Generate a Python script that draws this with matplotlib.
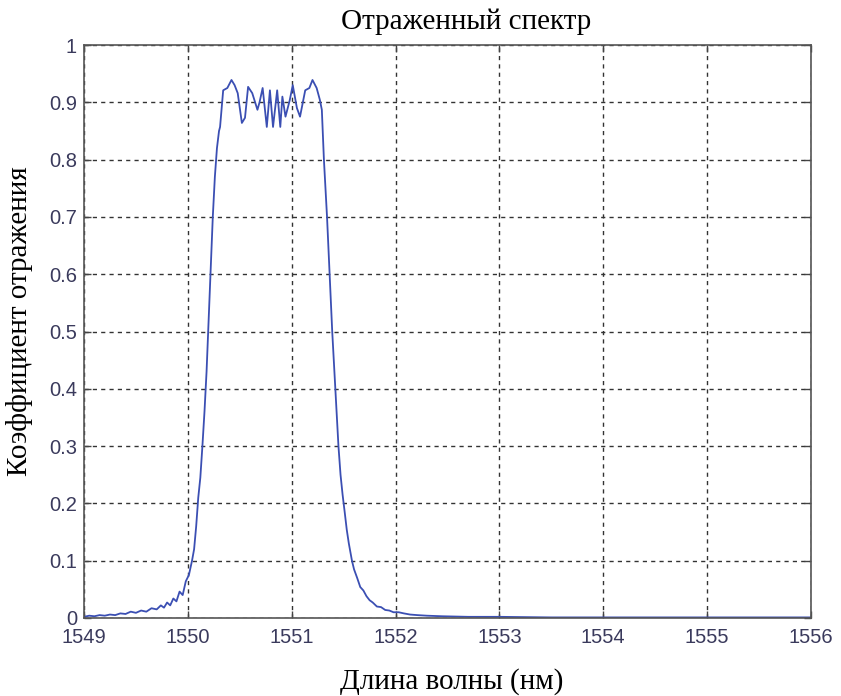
import matplotlib
matplotlib.use("Agg")
import matplotlib.pyplot as plt

# Отраженный спектр
wavelength = [
    1549.00, 1549.05, 1549.10, 1549.15, 1549.20, 1549.25, 1549.30, 1549.35,
    1549.40, 1549.45, 1549.50, 1549.55, 1549.60, 1549.65, 1549.70, 1549.74,
    1549.77, 1549.80, 1549.83, 1549.86, 1549.89, 1549.92, 1549.95, 1549.98,
    1550.01, 1550.04, 1550.06, 1550.08, 1550.10, 1550.12, 1550.14, 1550.16,
    1550.18, 1550.20, 1550.22, 1550.24, 1550.26, 1550.28, 1550.30, 1550.31,
    1550.34, 1550.38, 1550.42, 1550.45, 1550.48, 1550.52, 1550.55, 1550.58,
    1550.62, 1550.67, 1550.69, 1550.72, 1550.76, 1550.79, 1550.82, 1550.86,
    1550.89, 1550.91, 1550.94, 1550.98, 1551.01, 1551.05, 1551.08, 1551.13,
    1551.17, 1551.20, 1551.24, 1551.27, 1551.29, 1551.31, 1551.34, 1551.365,
    1551.39, 1551.42, 1551.45, 1551.47, 1551.49, 1551.51, 1551.53, 1551.55,
    1551.58, 1551.60, 1551.63, 1551.66, 1551.69, 1551.72, 1551.75, 1551.78,
    1551.82, 1551.86, 1551.90, 1551.94, 1551.98, 1552.03, 1552.08, 1552.14,
    1552.21, 1552.30, 1552.45, 1552.70, 1553.00, 1553.50, 1554.20, 1555.00,
    1556.00,
]
reflectance = [
    0.002, 0.004, 0.003, 0.005, 0.004, 0.006, 0.005, 0.008,
    0.007, 0.011, 0.009, 0.013, 0.011, 0.017, 0.015, 0.022,
    0.018, 0.027, 0.022, 0.034, 0.029, 0.046, 0.040, 0.064,
    0.075, 0.100, 0.120, 0.160, 0.210, 0.245, 0.300, 0.360,
    0.430, 0.520, 0.610, 0.700, 0.770, 0.820, 0.850, 0.857,
    0.921, 0.925, 0.939, 0.930, 0.916, 0.864, 0.873, 0.927,
    0.916, 0.887, 0.900, 0.925, 0.857, 0.921, 0.857, 0.921,
    0.857, 0.910, 0.875, 0.903, 0.930, 0.890, 0.875, 0.921,
    0.925, 0.939, 0.925, 0.905, 0.887, 0.800, 0.700, 0.600,
    0.500, 0.400, 0.300, 0.250, 0.215, 0.185, 0.154, 0.130,
    0.100, 0.085, 0.070, 0.054, 0.048, 0.038, 0.031, 0.027,
    0.020, 0.019, 0.014, 0.013, 0.010, 0.010, 0.008, 0.006,
    0.005, 0.004, 0.003, 0.002, 0.002, 0.001, 0.001, 0.001,
    0.001,
]

x_ticks = [1549, 1550, 1551, 1552, 1553, 1554, 1555, 1556]
y_ticks = [0, 0.1, 0.2, 0.3, 0.4, 0.5, 0.6, 0.7, 0.8, 0.9, 1]
y_labels = ["0", "0.1", "0.2", "0.3", "0.4", "0.5", "0.6", "0.7", "0.8", "0.9", "1"]

fig = plt.figure(figsize=(8.41, 6.96), dpi=100, facecolor="white")
ax = fig.add_axes([0.0999, 0.1121, 0.8644, 0.8232])

ax.plot(wavelength, reflectance, color="#3b4fb3", linewidth=1.3)

ax.set_xlim(1549, 1556)
ax.set_ylim(0, 1)
ax.set_xticks(x_ticks)
ax.set_yticks(y_ticks)
ax.set_yticklabels(y_labels)
ax.tick_params(direction="in", top=True, right=True, length=5, width=1,
               colors="#444444", labelcolor="#3a3a5c", labelsize=14.5)
ax.tick_params(axis="y", pad=5)
ax.tick_params(axis="x", pad=7.5)
for lab in ax.get_xticklabels() + ax.get_yticklabels():
    lab.set_family("Liberation Sans")

ax.grid(True, color="#333333", linestyle=(0, (3, 3)), linewidth=1.0)
for s in ax.spines.values():
    s.set_color("#555555")
    s.set_linewidth(1.2)

serif = "Liberation Serif"
fig.text(466 / 841, 1 - 22 / 696, "Отраженный спектр", family=serif,
         fontsize=21, ha="center", va="center")
fig.text(452 / 841, 1 - 682 / 696, "Длина волны (нм)", family=serif,
         fontsize=21, ha="center", va="center")
fig.text(20 / 841, 1 - 321 / 696, "Коэффициент отражения", family=serif,
         fontsize=21, ha="center", va="center", rotation=90)

fig.savefig("out.png", dpi=100, facecolor="white")
